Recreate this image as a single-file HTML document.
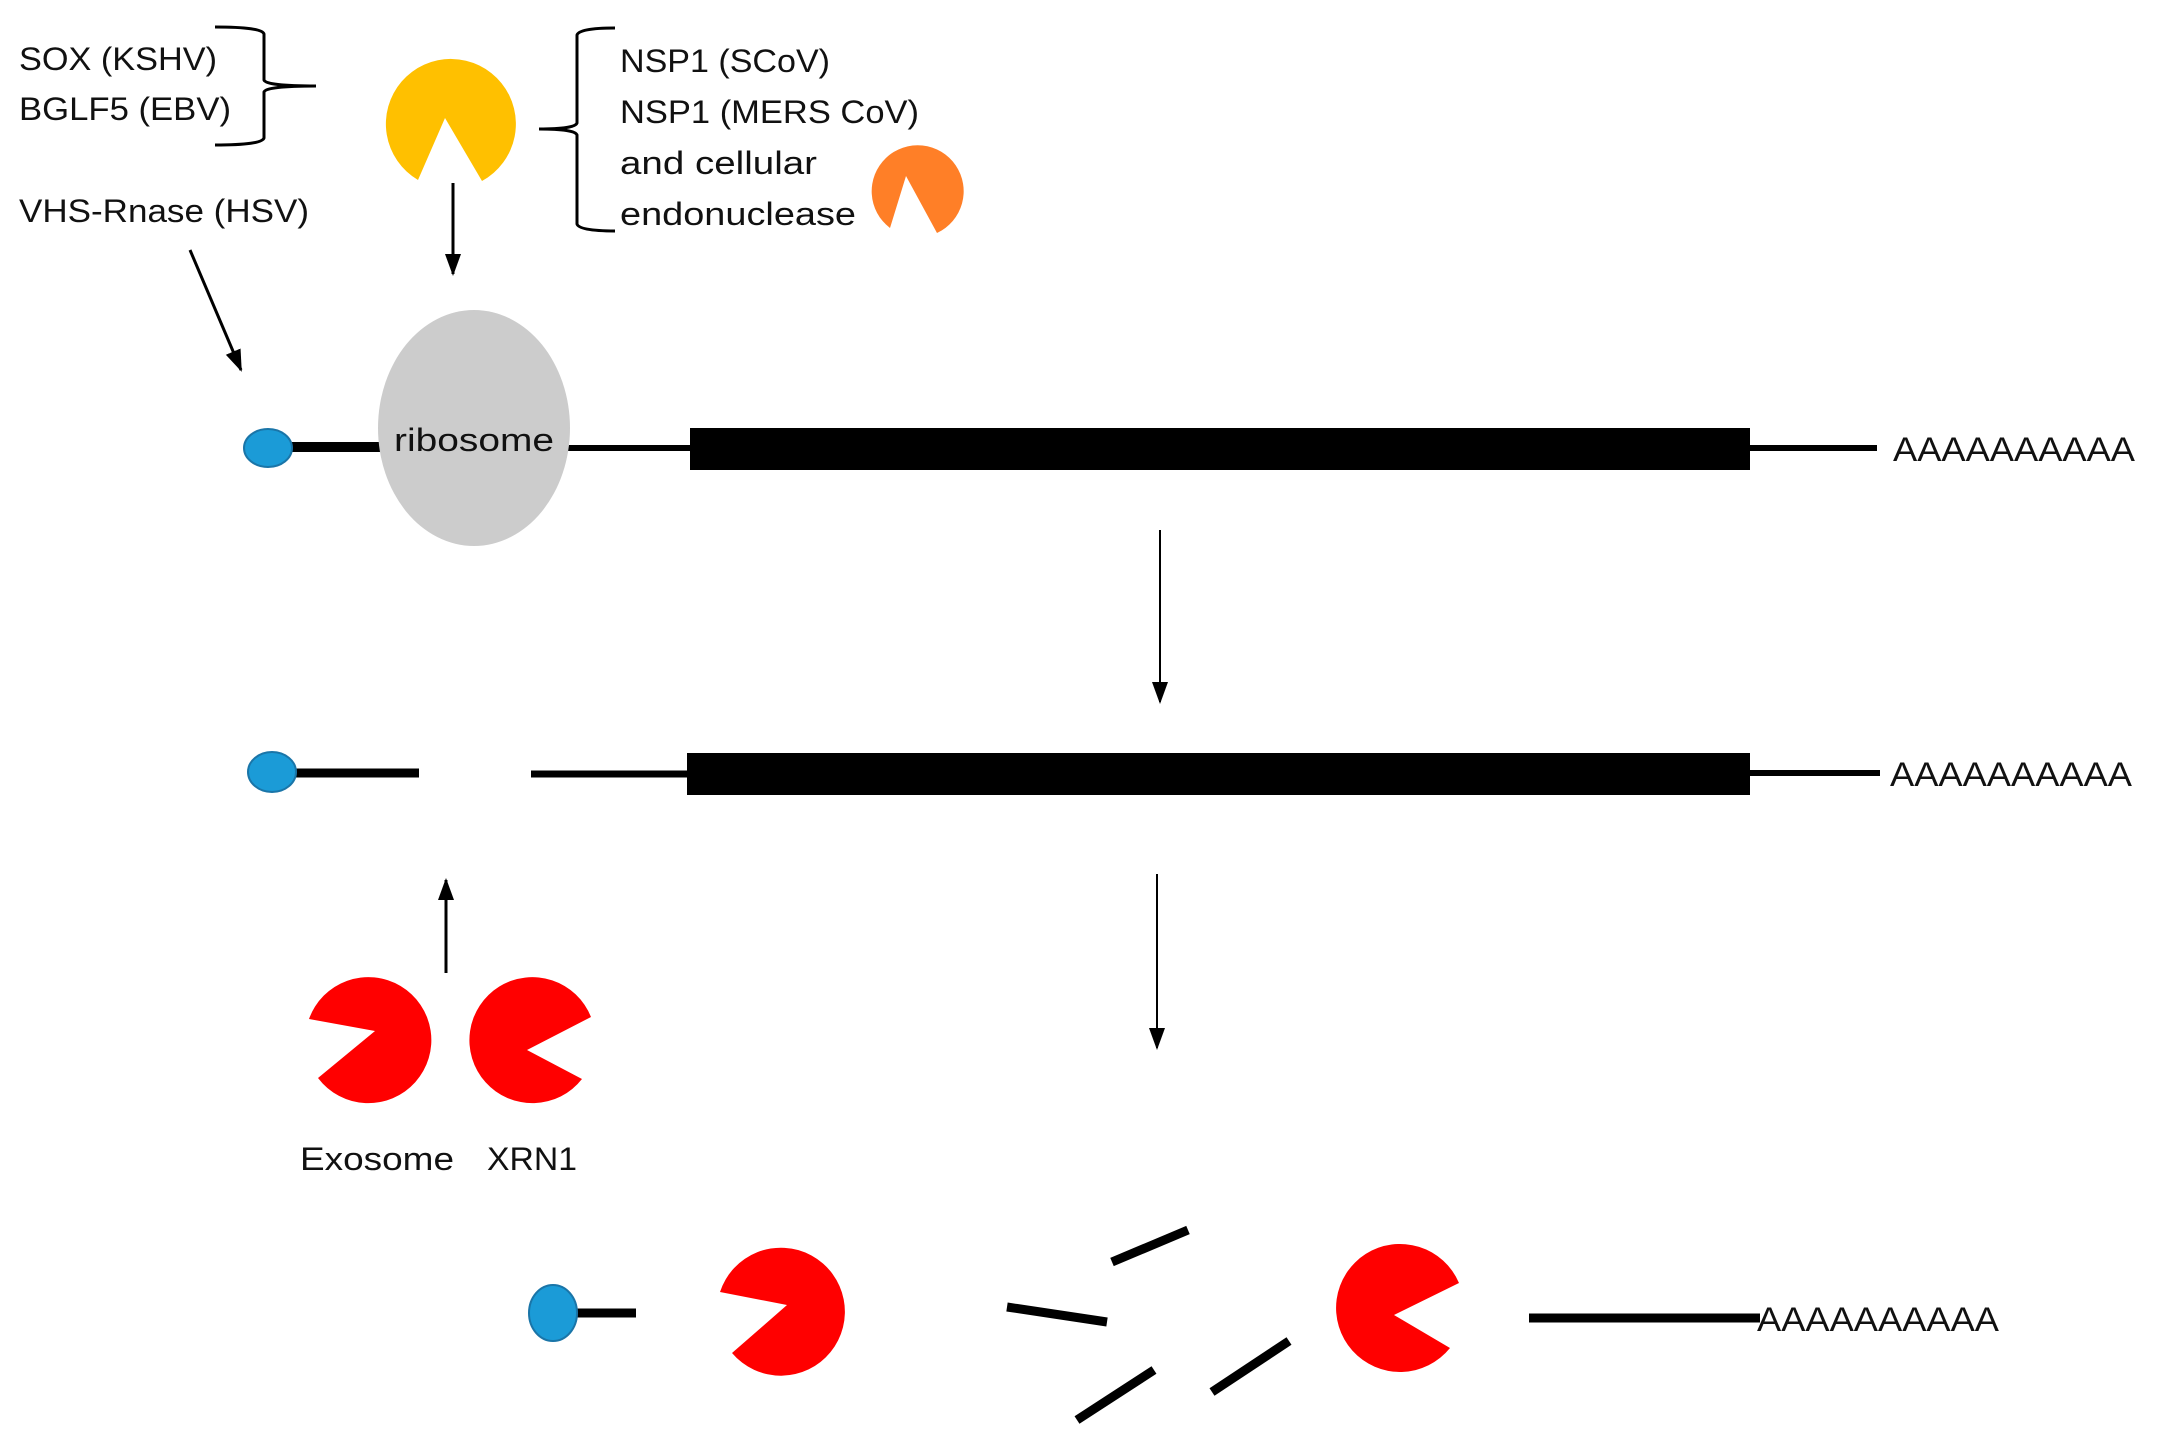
<!DOCTYPE html>
<html><head><meta charset="utf-8"><style>
html,body{margin:0;padding:0;background:#fff;}
svg{display:block;}
text{font-family:"Liberation Sans",sans-serif;fill:#111;}
</style></head><body>
<svg width="2161" height="1435" viewBox="0 0 2161 1435" xmlns="http://www.w3.org/2000/svg">
<defs>
<marker id="ah" markerWidth="10" markerHeight="10" refX="9" refY="5" orient="auto" markerUnits="userSpaceOnUse" viewBox="0 0 10 10">
<path d="M0,0 L10,5 L0,10 Z" fill="#000"/>
</marker>
<marker id="ahb" markerWidth="22" markerHeight="22" refX="20" refY="11" orient="auto" markerUnits="userSpaceOnUse" viewBox="0 0 22 22">
<path d="M0,3 L22,11 L0,19 Z" fill="#000"/>
</marker>
</defs>

<!-- top-left labels -->
<text x="19" y="70" font-size="32" textLength="198" lengthAdjust="spacingAndGlyphs">SOX (KSHV)</text>
<text x="19" y="120" font-size="32" textLength="212" lengthAdjust="spacingAndGlyphs">BGLF5 (EBV)</text>
<text x="19" y="222" font-size="32" textLength="290" lengthAdjust="spacingAndGlyphs">VHS-Rnase (HSV)</text>

<!-- brace 1 (right brace) -->
<path d="M215,27 Q262,27 264,34 L264,80 Q266,86 316,86 Q266,86 264,92 L264,138 Q262,145 215,145" fill="none" stroke="#000" stroke-width="3"/>

<!-- yellow endonuclease -->
<path d="M445,118 L418,180 A65,65 0 1 1 482,181 Z" fill="#FFC000"/>
<line x1="453" y1="183" x2="453" y2="274" stroke="#000" stroke-width="3" marker-end="url(#ahb)"/>

<!-- brace 2 (left brace) -->
<path d="M615,28 Q579,28 577,35 L577,123 Q575,129 539,129 Q575,129 577,135 L577,224 Q579,231 615,231" fill="none" stroke="#000" stroke-width="3"/>
<text x="620" y="72" font-size="32" textLength="210" lengthAdjust="spacingAndGlyphs">NSP1 (SCoV)</text>
<text x="620" y="123" font-size="32" textLength="299" lengthAdjust="spacingAndGlyphs">NSP1 (MERS CoV)</text>
<text x="620" y="174" font-size="32" textLength="197" lengthAdjust="spacingAndGlyphs">and cellular</text>
<text x="620" y="225" font-size="32" textLength="236" lengthAdjust="spacingAndGlyphs">endonuclease</text>

<!-- orange endonuclease -->
<path d="M906,176 L890,228 A46,46 0 1 1 937,233 Z" fill="#FF7F27"/>

<!-- VHS arrow -->
<line x1="190" y1="250" x2="241" y2="370" stroke="#000" stroke-width="3" marker-end="url(#ahb)"/>

<!-- row 1 -->
<line x1="267" y1="447" x2="400" y2="447" stroke="#000" stroke-width="10"/>
<line x1="540" y1="448" x2="700" y2="448" stroke="#000" stroke-width="6"/>
<ellipse cx="474" cy="428" rx="96" ry="118" fill="#CCCCCC"/>
<text x="474" y="451" font-size="32" text-anchor="middle" textLength="160" lengthAdjust="spacingAndGlyphs">ribosome</text>
<ellipse cx="268" cy="448" rx="24" ry="19" fill="#1B9BD7" stroke="#1A75A8" stroke-width="2"/>
<rect x="690" y="428" width="1060" height="42" fill="#000"/>
<line x1="1750" y1="448" x2="1877" y2="448" stroke="#000" stroke-width="6"/>
<text x="1893" y="461" font-size="34" textLength="242" lengthAdjust="spacingAndGlyphs">AAAAAAAAAA</text>

<!-- arrow row1->row2 -->
<line x1="1160" y1="530" x2="1160" y2="702" stroke="#000" stroke-width="2" marker-end="url(#ahb)"/>

<!-- row 2 -->
<line x1="290" y1="773" x2="419" y2="773" stroke="#000" stroke-width="9"/>
<ellipse cx="272" cy="772" rx="24" ry="20" fill="#1B9BD7" stroke="#1A75A8" stroke-width="2"/>
<line x1="531" y1="774" x2="690" y2="774" stroke="#000" stroke-width="7"/>
<rect x="687" y="753" width="1063" height="42" fill="#000"/>
<line x1="1747" y1="773" x2="1880" y2="773" stroke="#000" stroke-width="6"/>
<text x="1890" y="786" font-size="34" textLength="242" lengthAdjust="spacingAndGlyphs">AAAAAAAAAA</text>

<!-- up arrow -->
<line x1="446" y1="973" x2="446" y2="880" stroke="#000" stroke-width="3" marker-end="url(#ahb)"/>
<!-- down arrow -->
<line x1="1157" y1="874" x2="1157" y2="1048" stroke="#000" stroke-width="2" marker-end="url(#ahb)"/>

<!-- Exosome & XRN1 -->
<path d="M375,1031 L309,1019 A63,63 0 1 1 318,1078 Z" fill="#FF0000"/>
<path d="M527,1050 L591,1017 A63,63 0 1 0 582,1079 Z" fill="#FF0000"/>
<text x="300" y="1170" font-size="32" textLength="154" lengthAdjust="spacingAndGlyphs">Exosome</text>
<text x="487" y="1170" font-size="32" textLength="90" lengthAdjust="spacingAndGlyphs">XRN1</text>

<!-- row 3 -->
<line x1="570" y1="1313" x2="636" y2="1313" stroke="#000" stroke-width="9"/>
<ellipse cx="553" cy="1313" rx="24" ry="28" fill="#1B9BD7" stroke="#1A75A8" stroke-width="2"/>
<path d="M787,1305 L720,1292 A64,64 0 1 1 732,1353 Z" fill="#FF0000"/>
<line x1="1007" y1="1307" x2="1107" y2="1322" stroke="#000" stroke-width="9"/>
<line x1="1112" y1="1262" x2="1188" y2="1230" stroke="#000" stroke-width="9"/>
<line x1="1077" y1="1420" x2="1154" y2="1370" stroke="#000" stroke-width="9"/>
<line x1="1212" y1="1392" x2="1289" y2="1341" stroke="#000" stroke-width="9"/>
<path d="M1394,1315 L1459,1283 A64,64 0 1 0 1450,1348 Z" fill="#FF0000"/>
<line x1="1529" y1="1318" x2="1760" y2="1318" stroke="#000" stroke-width="9"/>
<text x="1757" y="1331" font-size="34" textLength="242" lengthAdjust="spacingAndGlyphs">AAAAAAAAAA</text>
</svg>
</body></html>
